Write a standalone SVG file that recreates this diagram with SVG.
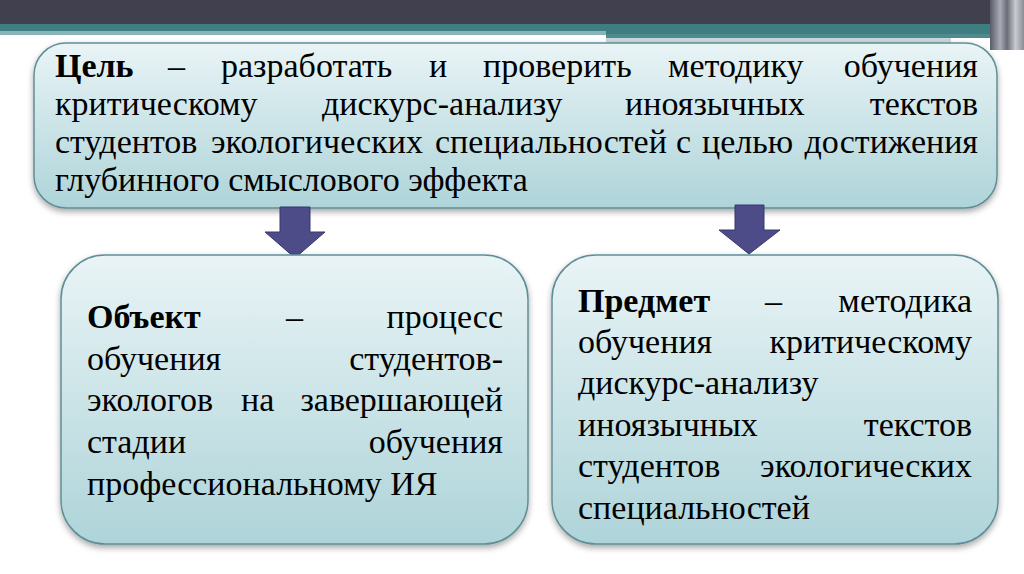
<svg xmlns="http://www.w3.org/2000/svg" width="1024" height="574" viewBox="0 0 1024 574">
<defs>
<linearGradient id="boxg" x1="0" y1="0" x2="0" y2="1">
<stop offset="0" stop-color="#e9f4f6"/>
<stop offset="1" stop-color="#aed4d9"/>
</linearGradient>
<linearGradient id="vs" x1="0" y1="0" x2="1" y2="0">
<stop offset="0" stop-color="#5a5a68"/>
<stop offset="0.3" stop-color="#a9acb4"/>
<stop offset="0.5" stop-color="#6b6c78"/>
<stop offset="0.75" stop-color="#c8cbd0"/>
<stop offset="1" stop-color="#8a8d96"/>
</linearGradient>
<filter id="sh" x="-5%" y="-5%" width="110%" height="115%">
<feDropShadow dx="0" dy="3" stdDeviation="3" flood-color="#000" flood-opacity="0.35"/>
</filter>
<style>
.box{fill:url(#boxg);stroke:#5f8e96;stroke-width:1.5;filter:url(#sh)}
.t{font-family:'Liberation Serif','Times New Roman',serif;font-size:34px;fill:#000}
.b{font-weight:bold}
.e{text-anchor:end}
.arr{fill:#4d4b88;stroke:#3a3970;stroke-width:1}
</style>
</defs>
<g id="header">
<rect x="0" y="0" width="1024" height="25" fill="#41404f"/>
<rect x="0" y="24" width="1024" height="10" fill="#3e7d80"/>
<rect x="0" y="31" width="606" height="4" fill="#8ab5b8"/>
<rect x="606" y="34" width="390" height="4" fill="#4f8a8d"/>
<rect x="606" y="38" width="345" height="5" fill="#c9d8da"/>
<rect x="990" y="0" width="34" height="50" fill="url(#vs)"/>
</g>
<g id="goal">
<rect class="box" x="34" y="43" width="963" height="165" rx="32" ry="32"/>
<text class="t b" x="55" y="77">Цель</text>
<text class="t" x="168" y="77">–</text>
<text class="t" x="221" y="77">разработать</text>
<text class="t" x="429" y="77">и</text>
<text class="t" x="483" y="77">проверить</text>
<text class="t" x="668" y="77">методику</text>
<text class="t e" x="978" y="77">обучения</text>
<text class="t" x="55" y="115">критическому</text>
<text class="t" x="322" y="115">дискурс-анализу</text>
<text class="t" x="625" y="115">иноязычных</text>
<text class="t e" x="978" y="115">текстов</text>
<text class="t" x="55" y="153">студентов</text>
<text class="t" x="211" y="153">экологических</text>
<text class="t" x="435" y="153">специальностей</text>
<text class="t" x="676" y="153">с</text>
<text class="t" x="702" y="153">целью</text>
<text class="t e" x="978" y="153">достижения</text>
<text class="t" x="55" y="191">глубинного смыслового эффекта</text>
</g>
<g id="connectors">
<path class="arr" d="M280,207 H310 V232 H325 L295,258 L265,232 H280 Z"/>
<path class="arr" d="M735,205 H764 V230 H780 L749,254 L719,230 H735 Z"/>
</g>
<g id="object">
<rect class="box" x="61" y="255" width="467" height="289" rx="44" ry="44"/>
<text class="t b" x="87" y="328">Объект</text>
<text class="t" x="286" y="328">–</text>
<text class="t e" x="503" y="328">процесс</text>
<text class="t" x="87" y="370">обучения</text>
<text class="t e" x="503" y="370">студентов-</text>
<text class="t" x="87" y="411">экологов</text>
<text class="t" x="241" y="411">на</text>
<text class="t e" x="503" y="411">завершающей</text>
<text class="t" x="87" y="453">стадии</text>
<text class="t e" x="503" y="453">обучения</text>
<text class="t" x="87" y="495">профессиональному ИЯ</text>
</g>
<g id="subject">
<rect class="box" x="552" y="255" width="446" height="289" rx="44" ry="44"/>
<text class="t b" x="578" y="312">Предмет</text>
<text class="t" x="765" y="312">–</text>
<text class="t e" x="972" y="312">методика</text>
<text class="t" x="578" y="353">обучения</text>
<text class="t e" x="972" y="353">критическому</text>
<text class="t" x="578" y="394">дискурс-анализу</text>
<text class="t" x="578" y="436">иноязычных</text>
<text class="t e" x="972" y="436">текстов</text>
<text class="t" x="578" y="477">студентов</text>
<text class="t e" x="972" y="477">экологических</text>
<text class="t" x="578" y="519">специальностей</text>
</g>
</svg>
